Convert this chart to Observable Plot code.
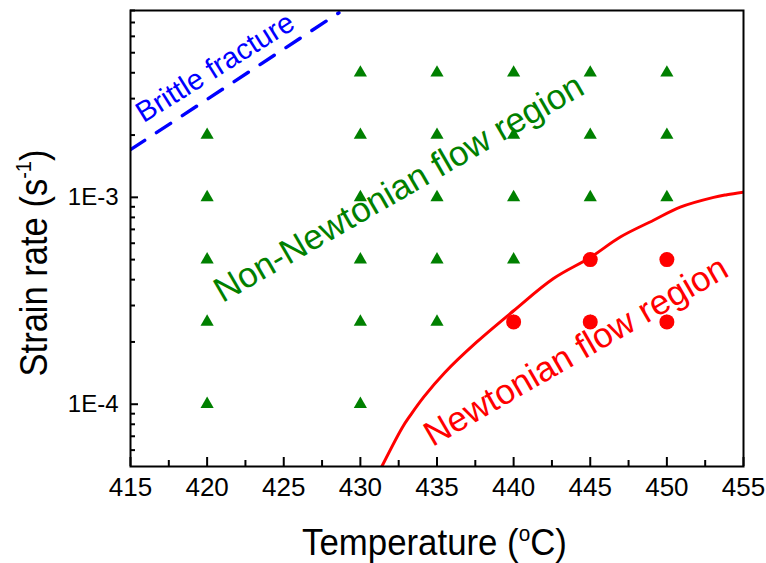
<!DOCTYPE html>
<html><head><meta charset="utf-8">
<script src="https://cdn.jsdelivr.net/npm/d3@7"></script>
<script src="https://cdn.jsdelivr.net/npm/@observablehq/plot@0.6"></script>
<style>
body{margin:0;background:#fff}
#chart{width:766px;height:563px}
</style>
</head><body><div id="chart"></div>
<script>
// Non-Newtonian test points (green triangles)
const triTemp = [420,420,420,420,420, 430,430,430,430,430,430, 435,435,435,435,435, 440,440,440,440,440, 445,445,445,445,445, 450,450,450,450,450];
const triRate = [1e-4,2.5e-4,5e-4,1e-3,2e-3, 1e-4,2.5e-4,5e-4,1e-3,2e-3,4e-3, 2.5e-4,5e-4,1e-3,2e-3,4e-3, 2.5e-4,5e-4,1e-3,2e-3,4e-3, 2.5e-4,5e-4,1e-3,2e-3,4e-3, 2.5e-4,5e-4,1e-3,2e-3,4e-3];
// Newtonian test points (red circles)
const cirTemp = [440, 445, 445, 450, 450];
const cirRate = [2.5e-4, 2.5e-4, 5e-4, 2.5e-4, 5e-4];
// Boundary curve (red)
const curveTemp = [431.4, 432.73, 433.27, 434.14, 435.5, 437.6, 440.0, 442.6, 445.0, 446.96, 449.13, 450.87, 453.05, 453.92, 455.0];
const curveRate = [5e-5, 7.7e-5, 8.85e-5, 1.085e-4, 1.42e-4, 2.0e-4, 2.83e-4, 4.05e-4, 5.12e-4, 6.43e-4, 7.75e-4, 8.97e-4, 1.0e-3, 1.03e-3, 1.06e-3];
// Brittle fracture line (blue dashed)
const brittleTemp = [415, 428.6];
const brittleRate = [1.7e-3, 7.8e-3];
// Region labels
const labelText = ["Brittle fracture", "Non-Newtonian flow region", "Newtonian flow region"];
const labelTemp = [415.85, 421.0, 434.7];
const labelRate = [2.28e-3, 3.08e-4, 6.2e-5];
const labelAngle = [-32, -30, -30];
const labelColor = ["blue", "green", "red"];
const labelSize = [29, 35, 35];
// Axis ticks
const xMajor = [415,420,425,430,435,440,445,450,455];
const xMinor = [417.5,422.5,427.5,432.5,437.5,442.5,447.5,452.5];
const yMajor = [1e-4, 1e-3];
const yTickLabels = ["1E-4", "1E-3"];
const yMinor = [6e-5,7e-5,8e-5,9e-5,2e-4,3e-4,4e-4,5e-4,6e-4,7e-4,8e-4,9e-4,2e-3,3e-3,4e-3,5e-3,6e-3,7e-3,8e-3];

const tri = triTemp.map((t,i)=>({t, r: triRate[i]}));
const cir = cirTemp.map((t,i)=>({t, r: cirRate[i]}));
const curve = curveTemp.map((t,i)=>({t, r: curveRate[i]}));
const brittle = brittleTemp.map((t,i)=>({t, r: brittleRate[i]}));
const labels = labelText.map((s,i)=>({s, t: labelTemp[i], r: labelRate[i], a: labelAngle[i], c: labelColor[i], fs: labelSize[i]}));
const FONT = "Arial, 'Liberation Sans', sans-serif";

const W = 766, H = 563, ML = 130, MR = 23, MT = 10, MB = 97;

const plot = Plot.plot({
  width: W, height: H,
  marginLeft: ML, marginRight: MR, marginTop: MT, marginBottom: MB,
  style: {fontFamily: FONT, background: "white", color: "black"},
  x: {domain: [415, 455]},
  y: {type: "log", domain: [5e-5, 8e-3]},
  marks: [
    Plot.line(curve, {x: "t", y: "r", stroke: "#ff0000", strokeWidth: 3, curve: "catmull-rom", clip: true}),
    Plot.line(brittle, {x: "t", y: "r", stroke: "#0000ff", strokeWidth: 3.4, strokeDasharray: "17,14", clip: true}),
    Plot.dot(tri, {x: "t", y: "r", symbol: "triangle", r: 4.9, fill: "#008000", stroke: "none"}),
    Plot.dot(cir, {x: "t", y: "r", r: 7.5, fill: "#ff0000", stroke: "none"}),
    ...labels.map(d => Plot.text([d], {x: "t", y: "r", text: "s", rotate: d.a, textAnchor: "start", lineAnchor: "bottom",
        fill: d.c, fontSize: d.fs, fontFamily: FONT})),
    Plot.frame({stroke: "black", strokeWidth: 2}),
    // inward ticks
    Plot.axisX(xMajor, {tickSize: -9, text: null, stroke: "black", strokeWidth: 2, label: null}),
    Plot.axisX(xMinor, {tickSize: -6, text: null, stroke: "black", strokeWidth: 2, label: null}),
    Plot.axisY(yMajor, {tickSize: -8, text: null, stroke: "black", strokeWidth: 2, label: null}),
    Plot.axisY(yMinor, {tickSize: -5, text: null, stroke: "black", strokeWidth: 2, label: null}),
    Plot.axisX(xMajor, {tickSize: 0, tickPadding: 11, fontSize: 26, label: null, tickFormat: d => String(d), fill: "black"}),
    Plot.axisY(yMajor, {tickSize: 0, tickPadding: 12, fontSize: 24, label: null, tickFormat: d => yTickLabels[yMajor.indexOf(d)], fill: "black"})
  ]
});
document.getElementById("chart").appendChild(plot);

const svg = d3.select(plot);
// X axis title
const xt = svg.append("text").attr("font-family", FONT).attr("font-size", 37).attr("fill", "black").attr("text-anchor", "middle");
xt.append("tspan").text("Temperature (");
xt.append("tspan").attr("font-size", 22).attr("dy", -14).text("o");
xt.append("tspan").attr("dy", 14).text("C)");
const xw = xt.node().getBBox().width;
xt.attr("transform", `translate(434.5,555) scale(${265 / xw},1)`);
// Y axis title
const yt = svg.append("text").attr("font-family", FONT).attr("font-size", 38).attr("fill", "black").attr("text-anchor", "middle");
yt.append("tspan").text("Strain rate (s");
yt.append("tspan").attr("font-size", 22).attr("dy", -16).text("-1");
yt.append("tspan").attr("dy", 16).text(")");
const yw = yt.node().getBBox().width;
yt.attr("transform", `translate(47,263) rotate(-90) scale(${227 / yw},1)`);
</script>
</body></html>
